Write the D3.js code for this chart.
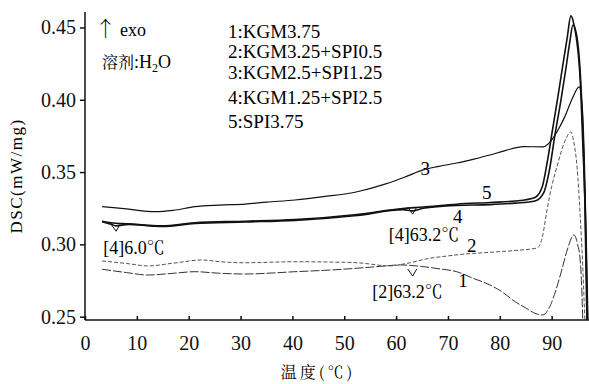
<html lang="zh">
<head>
<meta charset="UTF-8">
<title>DSC</title>
<script src="https://d3js.org/d3.v7.min.js"></script>
<style>
    body { margin: 0; background: #fff; }
    .axis path, .axis line { stroke: #111; stroke-width: 1.5; }
</style>
</head>
<body>
<svg id="chart" width="589" height="384"></svg>
<script>
    // temperatures (℃) and DSC values (mW/mg)
    const t1 = [3.3, 8, 12.2, 17, 21.2, 26, 30.9, 35, 40.5, 46, 52.5, 57, 60.8, 65.2, 68.5, 71.7, 74.8, 78.1, 80.5, 82.5, 85, 87, 88.3, 89.5, 91.0, 92.0, 93.0, 94.3, 95.0, 95.5, 95.8, 96.0];
    const dsc1 = [0.2828, 0.2805, 0.2788, 0.2800, 0.2811, 0.2800, 0.2795, 0.2800, 0.2811, 0.2820, 0.2835, 0.2848, 0.2858, 0.2846, 0.2830, 0.2811, 0.2766, 0.2719, 0.2670, 0.2615, 0.2560, 0.2520, 0.2512, 0.2560, 0.2705, 0.2830, 0.2961, 0.3065, 0.3000, 0.2892, 0.2700, 0.2478];

    const t2 = [3.3, 8, 12.2, 17, 22.6, 26, 30.9, 40.5, 47, 52.5, 58.8, 62, 66.5, 70, 72.9, 78.1, 83, 87.2, 88.2, 89.1, 90.0, 91.0, 92.4, 93.7, 94.3, 94.9, 95.5, 96.0, 96.4];
    const dsc2 = [0.2885, 0.2868, 0.2851, 0.2870, 0.2892, 0.2880, 0.2873, 0.2880, 0.2878, 0.2873, 0.2851, 0.2868, 0.2904, 0.2920, 0.2932, 0.2945, 0.2958, 0.2975, 0.3050, 0.3238, 0.3400, 0.3535, 0.3700, 0.3777, 0.3700, 0.3535, 0.3200, 0.2844, 0.2478];

    const t3 = [3.3, 8, 13.5, 17, 21.2, 26, 30.9, 35, 40.5, 46, 52.5, 58, 62, 65.2, 68, 71.7, 75, 78.1, 81, 84.5, 88.3, 89.5, 91.0, 92.5, 94.0, 95.3, 95.9, 96.3, 96.7, 97.0];
    const dsc3 = [0.3261, 0.3245, 0.3226, 0.3235, 0.3261, 0.3272, 0.3279, 0.3292, 0.3307, 0.3330, 0.3364, 0.3418, 0.3470, 0.3515, 0.3538, 0.3563, 0.3590, 0.3618, 0.3648, 0.3676, 0.3674, 0.3700, 0.3777, 0.3880, 0.4010, 0.4089, 0.3950, 0.3600, 0.3000, 0.2478];

    const t4 = [3.3, 5, 6.0, 8.3, 14.9, 21.2, 30.9, 40.5, 52.5, 61.3, 63.2, 65.2, 71.7, 78.1, 83, 86.8, 88.5, 89.6, 90.6, 91.8, 92.8, 93.5, 94.1, 94.8, 95.6, 96.1, 96.5, 96.9];
    const dsc4 = [0.3157, 0.3140, 0.3128, 0.3138, 0.3124, 0.3145, 0.3155, 0.3166, 0.3200, 0.3240, 0.3232, 0.3250, 0.3270, 0.3275, 0.3285, 0.3300, 0.3360, 0.3520, 0.3750, 0.4000, 0.4230, 0.4400, 0.4517, 0.4450, 0.4130, 0.3700, 0.3200, 0.2478];

    const t5 = [3.3, 5, 8.3, 14.9, 21.2, 30.9, 40.5, 52.5, 61.3, 65.2, 71.7, 78.1, 83, 86.8, 88.2, 89.1, 90.2, 91.2, 92.2, 93.0, 93.7, 94.3, 95.5, 96.0, 96.4, 96.8];
    const dsc5 = [0.3160, 0.3150, 0.3142, 0.3128, 0.3150, 0.3160, 0.3172, 0.3207, 0.3248, 0.3258, 0.3278, 0.3290, 0.3300, 0.3325, 0.3400, 0.3560, 0.3800, 0.4020, 0.4250, 0.4430, 0.4580, 0.4520, 0.4140, 0.3700, 0.3300, 0.2478];

    const legendLines = ["1:KGM3.75", "2:KGM3.25+SPI0.5", "3:KGM2.5+SPI1.25", "4:KGM1.25+SPI2.5", "5:SPI3.75"];
    const xTicks = [0, 10, 20, 30, 40, 50, 60, 70, 80, 90];
    const yTicks = [0.25, 0.30, 0.35, 0.40, 0.45];

    // curve number labels and peak annotations, in data units
    const curveLabels = [
        { text: "1", t: 72.9, v: 0.2748 },
        { text: "2", t: 74.6, v: 0.2990 },
        { text: "3", t: 65.6, v: 0.3526 },
        { text: "4", t: 71.9, v: 0.3196 },
        { text: "5", t: 77.5, v: 0.3362 }
    ];
    const notes = [
        { text: "[4]6.0℃", t: 3.5, v: 0.2975 },
        { text: "[4]63.2℃", t: 58.6, v: 0.3065 },
        { text: "[2]63.2℃", t: 55.4, v: 0.2671 }
    ];
    const markerT = [6.0, 63.2, 63.2];
    const markerV = [0.3091, 0.3209, 0.2781];

    const serif = "'Liberation Serif', 'Noto Serif CJK SC', 'Times New Roman', serif";
    const cjk = "'Noto Serif CJK SC', 'Noto Sans CJK SC', serif";

    const svg = d3.select("#chart");
    const x = d3.scaleLinear().domain([0, 97.2]).range([85, 589]);
    const y = d3.scaleLinear().domain([0.2477, 0.4607]).range([320, 12]);

    const series = [
        { t: t1, v: dsc1, color: "#333", width: 1, dash: "9,2" },
        { t: t2, v: dsc2, color: "#555", width: 1, dash: "4,2" },
        { t: t3, v: dsc3, color: "#111", width: 1.2, dash: null },
        { t: t4, v: dsc4, color: "#111", width: 1.6, dash: null },
        { t: t5, v: dsc5, color: "#111", width: 1.6, dash: null }
    ];

    const line = d3.line()
        .x(d => x(d[0]))
        .y(d => y(d[1]))
        .curve(d3.curveMonotoneX);

    svg.selectAll("path.curve")
        .data(series)
        .join("path")
        .attr("class", "curve")
        .attr("d", s => line(s.t.map((t, i) => [t, s.v[i]])))
        .attr("fill", "none")
        .attr("stroke", s => s.color)
        .attr("stroke-width", s => s.width)
        .attr("stroke-dasharray", s => s.dash);

    // small hanging triangles that mark the transitions
    svg.selectAll("path.marker")
        .data(markerT)
        .join("path")
        .attr("class", "marker")
        .attr("d", (t, i) => {
            const px = x(t), py = y(markerV[i]);
            return "M" + (px - 5) + "," + (py - 7) + "L" + px + "," + py + "L" + (px + 4) + "," + (py - 7);
        })
        .attr("fill", "none")
        .attr("stroke", "#111")
        .attr("stroke-width", 1);

    const xAxis = svg.append("g")
        .attr("class", "axis")
        .attr("transform", "translate(0,320)")
        .call(d3.axisBottom(x).tickValues(xTicks).tickFormat(d3.format("d"))
            .tickSizeInner(-4).tickSizeOuter(0).tickPadding(16));
    xAxis.select(".domain").attr("d", "M85,0H589");

    const yAxis = svg.append("g")
        .attr("class", "axis")
        .attr("transform", "translate(85,0)")
        .call(d3.axisLeft(y).tickValues(yTicks).tickFormat(d3.format(".2f"))
            .tickSize(5).tickPadding(4));
    yAxis.select(".domain").attr("d", "M0,12V320");

    svg.selectAll(".axis text")
        .attr("font-family", null)
        .style("font-family", serif)
        .style("font-size", "20px")
        .style("fill", "#111");

    svg.append("text")
        .attr("transform", "translate(22,176) rotate(-90)")
        .attr("text-anchor", "middle")
        .style("font-family", serif)
        .style("font-size", "17px")
        .style("letter-spacing", "1.5px")
        .text("DSC(mW/mg)");

    svg.append("text")
        .attr("x", 318)
        .attr("y", 378)
        .attr("text-anchor", "middle")
        .style("font-family", cjk)
        .style("font-size", "16px")
        .style("letter-spacing", "3px")
        .text("温度(℃)");

    const exo = svg.append("text")
        .attr("x", 95)
        .attr("y", 36)
        .style("font-family", serif)
        .style("font-size", "18px");
    exo.append("tspan").style("font-family", cjk).style("font-size", "21px").text("↑");
    exo.append("tspan").attr("dx", 4).text("exo");

    const solvent = svg.append("text")
        .attr("x", 102)
        .attr("y", 68)
        .style("font-family", serif)
        .style("font-size", "18px");
    solvent.append("tspan").style("font-family", cjk).style("font-size", "16px").text("溶剂");
    solvent.append("tspan").text(":H");
    solvent.append("tspan").attr("dy", 4).style("font-size", "12px").text("2");
    solvent.append("tspan").attr("dy", -4).text("O");

    const legendY = [31, 51, 72, 97, 121];
    svg.selectAll("text.legend")
        .data(legendLines)
        .join("text")
        .attr("class", "legend")
        .attr("x", 228)
        .attr("y", (d, i) => legendY[i])
        .attr("dy", "0.35em")
        .style("font-family", serif)
        .style("font-size", "19px")
        .text(d => d);

    svg.selectAll("text.clabel")
        .data(curveLabels)
        .join("text")
        .attr("class", "clabel")
        .attr("x", d => x(d.t))
        .attr("y", d => y(d.v))
        .attr("dy", "0.35em")
        .attr("text-anchor", "middle")
        .style("font-family", serif)
        .style("font-size", "19px")
        .text(d => d.text);

    svg.selectAll("text.note")
        .data(notes)
        .join("text")
        .attr("class", "note")
        .attr("x", d => x(d.t))
        .attr("y", d => y(d.v))
        .attr("dy", "0.35em")
        .style("font-family", serif)
        .style("font-size", "18px")
        .text(d => d.text);
</script>
</body>
</html>
